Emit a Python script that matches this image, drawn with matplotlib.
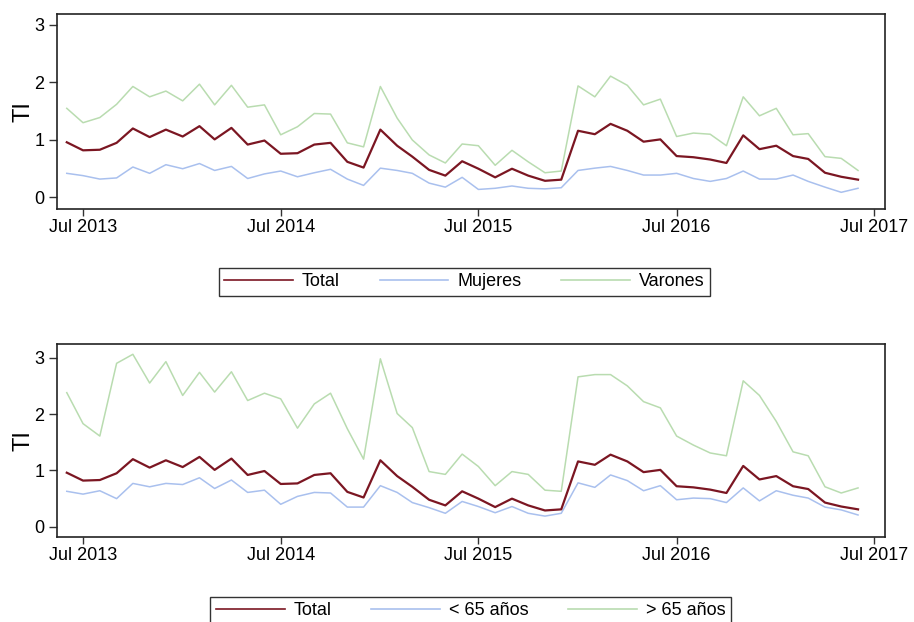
import numpy as np
import pandas as pd
import matplotlib
matplotlib.use("Agg")
import matplotlib.pyplot as plt
import matplotlib.dates as mdates

plt.rcParams['font.family'] = ['Liberation Sans', 'DejaVu Sans']

# monthly series, Jun 2013 - Jun 2017
months = pd.date_range("2013-06-01", "2017-06-01", freq="MS")

total = [0.96, 0.82, 0.83, 0.95, 1.20, 1.05, 1.18, 1.06, 1.24, 1.01, 1.21, 0.92, 0.99,
         0.76, 0.77, 0.92, 0.95, 0.62, 0.52, 1.18, 0.90, 0.71, 0.48, 0.38,
         0.63, 0.50, 0.35, 0.50, 0.38, 0.29, 0.31, 1.16, 1.10, 1.28, 1.16, 0.97, 1.01,
         0.72, 0.70, 0.66, 0.60, 1.08, 0.84, 0.90, 0.72, 0.67, 0.43, 0.36, 0.31]
mujeres = [0.42, 0.38, 0.32, 0.34, 0.53, 0.42, 0.57, 0.50, 0.59, 0.47, 0.54, 0.33, 0.41,
           0.46, 0.36, 0.43, 0.49, 0.32, 0.21, 0.51, 0.47, 0.42, 0.25, 0.18,
           0.35, 0.14, 0.16, 0.20, 0.16, 0.15, 0.17, 0.47, 0.51, 0.54, 0.47, 0.39, 0.39,
           0.42, 0.33, 0.28, 0.33, 0.46, 0.32, 0.32, 0.39, 0.28, 0.18, 0.09, 0.16]
varones = [1.55, 1.30, 1.39, 1.62, 1.93, 1.75, 1.85, 1.68, 1.97, 1.61, 1.95, 1.57, 1.61,
           1.09, 1.23, 1.46, 1.45, 0.95, 0.88, 1.93, 1.38, 1.00, 0.74, 0.60,
           0.93, 0.90, 0.56, 0.82, 0.62, 0.43, 0.46, 1.94, 1.75, 2.11, 1.95, 1.61, 1.71,
           1.06, 1.12, 1.10, 0.90, 1.75, 1.42, 1.55, 1.09, 1.11, 0.71, 0.68, 0.47]
menor65 = [0.63, 0.58, 0.64, 0.50, 0.77, 0.71, 0.77, 0.75, 0.87, 0.68, 0.83, 0.61, 0.65,
           0.40, 0.54, 0.61, 0.60, 0.35, 0.35, 0.73, 0.61, 0.43, 0.34, 0.24,
           0.45, 0.36, 0.25, 0.36, 0.24, 0.19, 0.24, 0.78, 0.70, 0.92, 0.82, 0.64, 0.73,
           0.48, 0.51, 0.50, 0.43, 0.69, 0.46, 0.64, 0.56, 0.51, 0.35, 0.30, 0.21]
mayor65 = [2.38, 1.83, 1.61, 2.90, 3.06, 2.55, 2.93, 2.33, 2.74, 2.39, 2.75, 2.24, 2.37,
           2.27, 1.75, 2.18, 2.37, 1.74, 1.20, 2.98, 2.01, 1.76, 0.98, 0.93,
           1.29, 1.07, 0.73, 0.98, 0.93, 0.65, 0.63, 2.66, 2.70, 2.70, 2.50, 2.22, 2.11,
           1.61, 1.45, 1.31, 1.26, 2.59, 2.33, 1.87, 1.33, 1.26, 0.71, 0.60, 0.69]

c_total = "#7b1622"
c_blue = "#a9c0ee"
c_green = "#b9dcb0"

fig = plt.figure(figsize=(9.14, 6.22), dpi=100)
ax1 = fig.add_axes([0.0624, 0.664, 0.906, 0.3135])
ax2 = fig.add_axes([0.0624, 0.1367, 0.906, 0.310])

panels = [
    (ax1, [(total, c_total, 1.6, "Total"), (mujeres, c_blue, 1.1, "Mujeres"),
           (varones, c_green, 1.1, "Varones")], (-0.2, 3.19), 0.569, 0.508),
    (ax2, [(total, c_total, 1.6, "Total"), (menor65, c_blue, 1.1, "< 65 años"),
           (mayor65, c_green, 1.1, "> 65 años")], (-0.18, 3.24), 0.0402, 0.515),
]

for ax, series, ylim, ly, lx in panels:
    handles = []
    for vals, col, lw, lab in series:
        ax.plot(months, vals, color=col, lw=lw, zorder=3 if lab == "Total" else 2)
        handles.append(plt.Line2D([], [], color=col, lw=1.2, label=lab))
    ax.set_xlim(pd.Timestamp("2013-05-14"), pd.Timestamp("2017-07-21"))
    ax.set_ylim(*ylim)
    ax.set_yticks([0, 1, 2, 3])
    ax.xaxis.set_major_locator(mdates.MonthLocator(bymonth=7))
    ax.xaxis.set_major_formatter(mdates.DateFormatter("%b %Y"))
    ax.tick_params(axis='y', labelsize=13, length=6, width=1, color="#333333", pad=3)
    ax.tick_params(axis='x', labelsize=13, length=5, width=1, color="#333333", pad=2)
    for sp in ax.spines.values():
        sp.set_linewidth(1.2)
        sp.set_color("#222222")
    ax.set_ylabel("TI", fontsize=17)
    ax.yaxis.set_label_coords(-0.027, 0.5)
    fig.legend(handles=handles, loc="upper center", bbox_to_anchor=(lx, ly), ncol=3,
               fontsize=13, frameon=True, fancybox=False, edgecolor="black",
               handlelength=3.8, handletextpad=0.5, columnspacing=2.2,
               borderpad=0.3, borderaxespad=0)

fig.savefig("out.png", dpi=100)
